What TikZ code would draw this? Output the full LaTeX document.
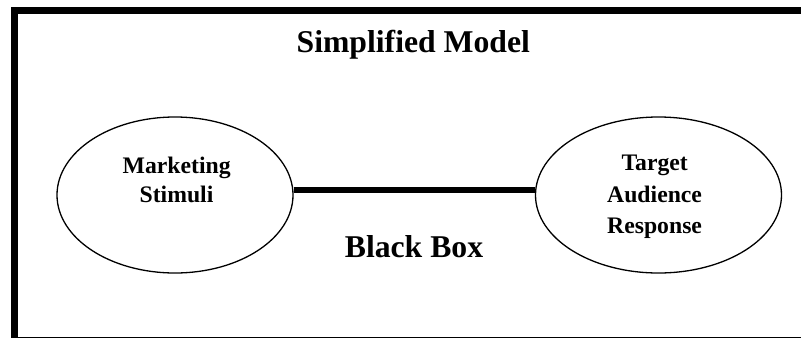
\documentclass[tikz,border=0pt]{standalone}
\usepackage{fontspec}
\setmainfont{Liberation Serif}
\usetikzlibrary{shapes.geometric}
\begin{document}
\begin{tikzpicture}[x=1pt,y=-1pt,
  oval/.style={draw, ellipse, line width=1.3pt, inner sep=0pt},
  bigtxt/.style={font=\fontsize{31.7}{38}\selectfont\bfseries, anchor=base, inner sep=0pt},
  smalltxt/.style={font=\fontsize{23.7}{28}\selectfont\bfseries, anchor=base, inner sep=0pt},
  link/.style={line width=6.5pt}]
\useasboundingbox (0,0) rectangle (801,338);
% frame
\fill[black] (11.3,6.7) rectangle (801,14);
\fill[black] (11.3,6.7) rectangle (17.5,338);
\draw[line width=1.2pt] (17,337.3) -- (801,337.3);
% ellipses
\node[oval, minimum width=236pt, minimum height=156pt] (L) at (175,195) {};
\node[oval, minimum width=246pt, minimum height=156pt] (R) at (658.5,195) {};
\draw[link] ([yshift=5pt]L.east) -- ([yshift=5pt]R.west);
% texts
\node[bigtxt] (title) at (413.3,52) {Simplified Model};
\node[bigtxt] (bb) at (414,257.3) {Black Box};
\node[smalltxt] (m1) at (176.7,173.3) {Marketing};
\node[smalltxt] (m2) at (176.5,202.7) {Stimuli};
\node[smalltxt] (t1) at (654.7,170) {Target};
\node[smalltxt] (t2) at (654.6,202.3) {Audience};
\node[smalltxt] (t3) at (654.6,233.3) {Response};
\end{tikzpicture}
\end{document}
